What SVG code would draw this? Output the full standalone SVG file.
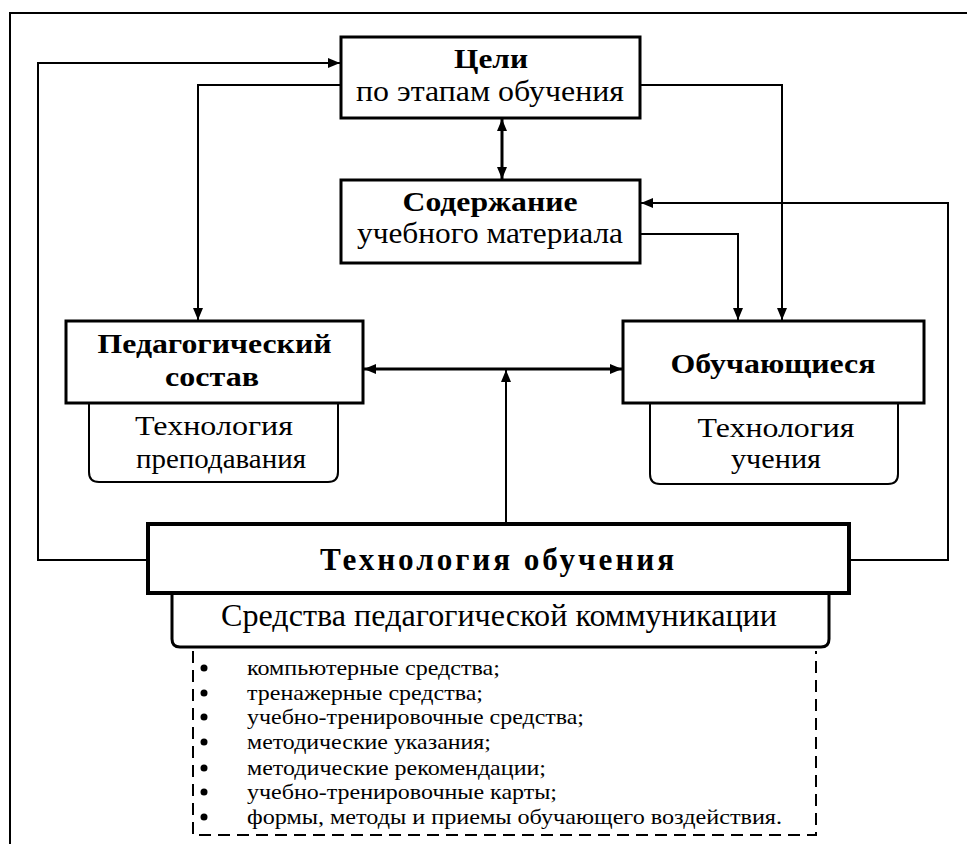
<svg xmlns="http://www.w3.org/2000/svg" width="967" height="844" viewBox="0 0 967 844">
<style>
text{font-family:"Liberation Serif","Times New Roman",serif;fill:#000}
.b{font-weight:bold}
.box{fill:#fff;stroke:#000;stroke-width:3}
.sub{fill:#fff;stroke:#000;stroke-width:2}
.c{fill:none;stroke:#000;stroke-width:2}
.ct{fill:none;stroke:#000;stroke-width:3}
.li{font-size:22px}
</style>
<defs>
<marker id="ah" viewBox="0 0 12 10" refX="12" refY="5" markerWidth="12" markerHeight="10" markerUnits="userSpaceOnUse" orient="auto-start-reverse">
<path d="M0,0 L12,5 L0,10 z" fill="#000"/>
</marker>
</defs>
<rect width="967" height="844" fill="#fff"/>
<path d="M10,844 V13 H967" fill="none" stroke="#000" stroke-width="2"/>
<g id="connectors">
<path class="c" d="M148,560 H38 V63 H340" marker-end="url(#ah)"/>
<path class="c" d="M849,560 H948 V203 H641" marker-end="url(#ah)"/>
<path class="c" d="M341,85 H198 V320" marker-end="url(#ah)"/>
<path class="c" d="M640,85 H782 V320" marker-end="url(#ah)"/>
<path class="c" d="M640,234 H738 V320" marker-end="url(#ah)"/>
<path class="ct" d="M502,119 V179" marker-start="url(#ah)" marker-end="url(#ah)"/>
<path class="ct" d="M364,369 H622" marker-start="url(#ah)" marker-end="url(#ah)"/>
<path class="c" d="M506,522 V370" marker-end="url(#ah)"/>
</g>
<g id="goals">
<rect class="box" x="341" y="37" width="299" height="81"/>
<text class="b" x="491" y="68" font-size="27" text-anchor="middle" textLength="74" lengthAdjust="spacingAndGlyphs">Цели</text>
<text x="490" y="101" font-size="29" text-anchor="middle" textLength="268" lengthAdjust="spacingAndGlyphs">по этапам обучения</text>
</g>
<g id="content">
<rect class="box" x="341" y="180" width="299" height="83"/>
<text class="b" x="490" y="211" font-size="28" text-anchor="middle" textLength="175" lengthAdjust="spacingAndGlyphs">Содержание</text>
<text x="490" y="243" font-size="29" text-anchor="middle" textLength="266" lengthAdjust="spacingAndGlyphs">учебного материала</text>
</g>
<g id="teachers">
<path class="sub" d="M89,403 V472 Q89,482 99,482 H328 Q338,482 338,472 V403"/>
<rect class="box" x="66" y="321" width="297" height="82"/>
<text class="b" x="214.5" y="353" font-size="27" text-anchor="middle" textLength="234" lengthAdjust="spacingAndGlyphs">Педагогический</text>
<text class="b" x="212" y="386" font-size="27" text-anchor="middle" textLength="94" lengthAdjust="spacingAndGlyphs">состав</text>
<text x="214" y="435" font-size="28" text-anchor="middle" textLength="158" lengthAdjust="spacingAndGlyphs">Технология</text>
<text x="221" y="468" font-size="28" text-anchor="middle" textLength="170" lengthAdjust="spacingAndGlyphs">преподавания</text>
</g>
<g id="learners">
<path class="sub" d="M650,403 V474 Q650,484 660,484 H888 Q898,484 898,474 V403"/>
<rect class="box" x="623" y="321" width="301" height="82"/>
<text class="b" x="773" y="373" font-size="28" text-anchor="middle" textLength="205" lengthAdjust="spacingAndGlyphs">Обучающиеся</text>
<text x="776" y="437" font-size="28" text-anchor="middle" textLength="157" lengthAdjust="spacingAndGlyphs">Технология</text>
<text x="776" y="468" font-size="28" text-anchor="middle" textLength="90" lengthAdjust="spacingAndGlyphs">учения</text>
</g>
<g id="technology">
<path d="M172,593 V639 Q172,647 180,647 H821 Q829,647 829,639 V593" fill="#fff" stroke="#000" stroke-width="3"/>
<rect x="148" y="524" width="701" height="69" fill="#fff" stroke="#000" stroke-width="4"/>
<text class="b" x="320" y="570" font-size="32" letter-spacing="3" textLength="357" lengthAdjust="spacingAndGlyphs">Технология обучения</text>
<text x="221" y="626" font-size="31" textLength="556" lengthAdjust="spacingAndGlyphs">Средства педагогической коммуникации</text>
</g>
<g id="means">
<path d="M193,651 V835 H816 V651" fill="none" stroke="#000" stroke-width="2" stroke-dasharray="12 7"/>
<g fill="#000">
<circle cx="204" cy="668" r="3.5"/>
<circle cx="204" cy="693" r="3.5"/>
<circle cx="204" cy="717" r="3.5"/>
<circle cx="204" cy="742" r="3.5"/>
<circle cx="204" cy="768" r="3.5"/>
<circle cx="204" cy="792" r="3.5"/>
<circle cx="204" cy="817" r="3.5"/>
</g>
<text class="li" x="247" y="675" textLength="253" lengthAdjust="spacingAndGlyphs">компьютерные средства;</text>
<text class="li" x="247" y="700" textLength="236" lengthAdjust="spacingAndGlyphs">тренажерные средства;</text>
<text class="li" x="247" y="724" textLength="337" lengthAdjust="spacingAndGlyphs">учебно-тренировочные средства;</text>
<text class="li" x="247" y="749" textLength="244" lengthAdjust="spacingAndGlyphs">методические указания;</text>
<text class="li" x="247" y="775" textLength="299" lengthAdjust="spacingAndGlyphs">методические рекомендации;</text>
<text class="li" x="247" y="799" textLength="310" lengthAdjust="spacingAndGlyphs">учебно-тренировочные карты;</text>
<text class="li" x="247" y="824" textLength="535" lengthAdjust="spacingAndGlyphs">формы, методы и приемы обучающего воздействия.</text>
</g>
</svg>
